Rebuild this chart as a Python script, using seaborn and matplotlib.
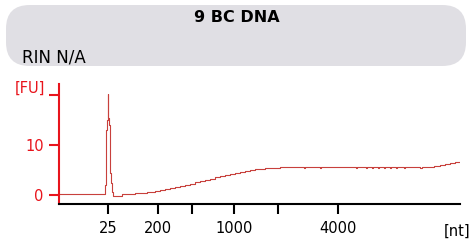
import matplotlib
matplotlib.use("Agg")
import matplotlib.pyplot as plt
from matplotlib.patches import FancyBboxPatch
import seaborn as sns
import pandas as pd

# electropherogram trace, migration time (s) vs fluorescence (FU)
time_s = [20.0, 31.2, 31.5, 31.8, 32.0, 32.2, 32.3, 32.5, 32.7, 33.0, 33.2, 33.5,
          35.71, 38.95, 41.95, 43.94, 45.19, 46.44, 47.68, 48.93, 50.18,
          51.42, 52.67, 53.92, 55.17, 56.41, 57.66, 58.91, 60.15, 61.40,
          62.65, 63.89, 65.14, 66.39, 67.63, 68.88, 70.13, 71.38, 72.62,
          75.11, 77.61, 81.0, 81.4, 85.0, 85.4, 94.0, 94.4, 96.5, 96.9,
          98.0, 98.4, 99.5, 99.9, 101.0, 101.4, 102.5, 102.9, 104.0, 104.4,
          106.0, 106.4, 110.0, 110.4, 112.5, 113.5, 115.0, 116.2, 117.5,
          118.8, 120.0]
fu = [0.2, 0.2, 2.0, 13.0, 15.0, 20.2, 15.5, 14.0, 4.4, 2.4, 0.6, -0.1,
      0.3, 0.35, 0.6, 0.8, 1.0, 1.2, 1.4, 1.6, 1.8,
      2.05, 2.3, 2.55, 2.8, 3.05, 3.3, 3.55, 3.8, 4.0,
      4.2, 4.4, 4.6, 4.8, 5.0, 5.15, 5.3, 5.4, 5.5,
      5.6, 5.7, 5.4, 5.7, 5.4, 5.7, 5.4, 5.7, 5.4, 5.7,
      5.4, 5.7, 5.4, 5.7, 5.4, 5.7, 5.4, 5.7, 5.4, 5.7,
      5.4, 5.7, 5.4, 5.7, 5.7, 5.8, 6.0, 6.2, 6.4,
      6.6, 6.9]

tick_pos = [32.2, 44.7, 53.2, 63.6, 74.6, 89.6]
tick_labels = ["25", "200", "", "1000", "", "4000"]
y_ticks = [0, 10, 20]
y_labels = ["0", "10", ""]

title = "9 BC DNA"
rin_text = "RIN N/A"

red = "#e8141c"
trace_color = "#c8403c"

sns.set_theme(style="white")
plt.rcParams["font.family"] = ["DejaVu Sans"]

fig = plt.figure(figsize=(4.74, 2.47), dpi=100)

# header box
box = FancyBboxPatch((6 / 474, 1 - 66 / 247), 460 / 474, 61 / 247,
                     boxstyle="round,pad=0,rounding_size=0.05",
                     transform=fig.transFigure, facecolor="#e0dfe4",
                     edgecolor="none", mutation_aspect=474 / 247)
fig.patches.append(box)
fig.text(0.5, 1 - 18 / 247, title, ha="center", va="center",
         fontsize=11.5, fontweight="bold", color="black")
fig.text(22 / 474, 1 - 57 / 247, rin_text, ha="left", va="center",
         fontsize=12, color="black")

ax = fig.add_axes([59 / 474, 1 - 204 / 247, 401 / 474, 120 / 247])
df = pd.DataFrame({"time": time_s, "fu": fu})
sns.lineplot(data=df, x="time", y="fu", ax=ax, color=trace_color,
             linewidth=0.8, drawstyle="steps-post")

ax.set_xlim(20, 120)
ax.set_ylim(-1.8, 22.2)
ax.set_xticks(tick_pos)
ax.set_xticklabels(tick_labels)
ax.set_yticks(y_ticks)
ax.set_yticklabels(y_labels)
ax.set_xlabel("")
ax.set_ylabel("")

for s in ["top", "right"]:
    ax.spines[s].set_visible(False)
ax.spines["left"].set_color(red)
ax.spines["left"].set_linewidth(1.5)
ax.spines["bottom"].set_color("black")
ax.spines["bottom"].set_linewidth(1.5)

ax.tick_params(axis="y", colors=red, length=7, width=1.5, pad=4,
               labelsize=10.5, left=True)
ax.tick_params(axis="x", colors="black", length=7, width=1.5, pad=5,
               labelsize=10.5, bottom=True)
ax.set_facecolor("white")

ax.text(-0.035, 21.4, "[FU]", transform=ax.get_yaxis_transform(),
        ha="right", va="center", color=red, fontsize=10.5)
ax.text(0.993, -0.23, "[nt]", transform=ax.transAxes, ha="center",
        va="center", color="black", fontsize=10.5)

fig.savefig("out.png", dpi=100)
